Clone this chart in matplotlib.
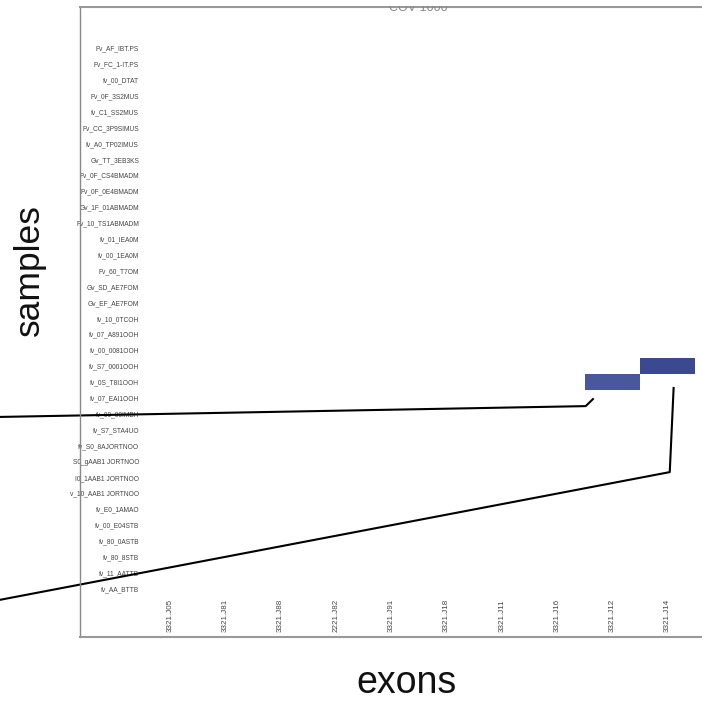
import numpy as np
import matplotlib
matplotlib.use('Agg')
import matplotlib.pyplot as plt
from matplotlib.colors import LinearSegmentedColormap
from matplotlib.patches import Rectangle

plt.rcParams['font.family'] = ['Liberation Sans', 'DejaVu Sans']

# sample labels (rows, top to bottom) as they read in the picture
samples = [
    "Fv_AF_IBT.PS", "Fv_FC_1-IT.PS", "fv_00_DTAT", "Fv_0F_3S2MUS",
    "fv_C1_SS2MUS", "Fv_CC_3P9SIMUS", "fv_A0_TP02IMUS", "Gv_TT_3EB3KS",
    "Fv_0F_CS4BMADM", "Fv_0F_0E4BMADM", "Gv_1F_01ABMADM", "Fv_10_TS1ABMADM",
    "fv_01_IEA0M", "fv_00_1EA0M", "Fv_60_T7OM", "Gv_SD_AE7FOM",
    "Gv_EF_AE7FOM", "fv_10_0TCOH", "fv_07_A891OOH", "fv_00_0081OOH",
    "fv_S7_0001OOH", "fv_0S_T8I1OOH", "fv_07_EAI1OOH", "fv_00_00IMBH",
    "fv_S7_STA4UO", "fv_S0_8AJORTNOO", "S0_gAAB1 JORTNOO", "I0_1AAB1 JORTNOO",
    "v_10_AAB1 JORTNOO", "fv_E0_1AMAO", "fv_00_E04STB", "fv_80_0ASTB",
    "fv_80_8STB", "fv_11_AATTB", "fv_AA_BTTB",
]
exons = ["3321.J05", "3321.J81", "3321.J88", "2221.J82", "3321.J91",
         "3321.J18", "3321.J11", "3321.J16", "3321.J12", "3321.J14"]

# the only filled cells: (sample, exon, value)
hits = [("fv_0S_T8I1OOH", "3321.J12", 0.55),
        ("fv_S7_0001OOH", "3321.J14", 0.85)]

# leader lines, in (exon index, sample index) units
lead1_x = [-3.07, 7.52, 7.65]
lead1_y = [23.2, 22.52, 22.08]
lead2_x = [-3.07, 9.04, 9.11]
lead2_y = [34.7, 26.67, 21.38]

title = "COV 1000"

grid = np.full((len(samples), len(exons)), np.nan)
for s, e, v in hits:
    grid[samples.index(s), exons.index(e)] = v
grid = np.ma.masked_invalid(grid)

fig = plt.figure(figsize=(7.02, 7.01), dpi=100)
ax = fig.add_axes([80 / 702, 1 - 637 / 701, (756 - 80) / 702, 630 / 701])

cmap = LinearSegmentedColormap.from_list('blu', ['#6272b0', '#34428a'])
xe = np.arange(len(exons) + 1) - 0.5
ye = np.arange(len(samples) + 1) - 0.5
ax.pcolormesh(xe, ye, grid, cmap=cmap, vmin=0, vmax=1, edgecolors='none')

ax.set_xlim(-1.627, 10.6)
ax.set_ylim(37.04, -2.58)

ax.set_yticks(range(len(samples)))
ax.set_yticklabels(samples, fontsize=4.8, color='#444444')
ax.tick_params(axis='y', length=0, pad=-42.5)
ax.set_xticks(range(len(exons)))
ax.set_xticklabels(exons, rotation=90, va='bottom', ha='center',
                   fontsize=5.8, color='#444444')
ax.tick_params(axis='x', length=0, pad=-3.6)

ax.spines['right'].set_visible(False)
ax.spines['top'].set_color('#999999')
ax.spines['top'].set_linewidth(1.5)
ax.spines['left'].set_color('#888888')
ax.spines['left'].set_linewidth(1)
ax.spines['bottom'].set_color('#999999')
ax.spines['bottom'].set_linewidth(1.5)

# title sits under the top edge, only its lower part shows
ax.text(0.5, 1 - 7 / 630, title, transform=ax.transAxes, ha='center',
        va='bottom', fontsize=9, color='#888888')
fig.patches.append(Rectangle((0, 1 - 6 / 701), 1, 6 / 701,
                             transform=fig.transFigure, facecolor='white',
                             edgecolor='none', zorder=5))

ax.plot(lead1_x, lead1_y, color='k', lw=1.5, clip_on=False)
ax.plot(lead2_x, lead2_y, color='k', lw=1.5, clip_on=False)

fig.text(406 / 702, 1 - 683 / 701, 'exons', ha='center', va='center',
         fontsize=27, color='#111111')
fig.text(29 / 702, 1 - 270 / 701, 'samples', ha='center', va='center',
         rotation=90, fontsize=25.5, color='#111111')

fig.savefig('out.png', dpi=100)
